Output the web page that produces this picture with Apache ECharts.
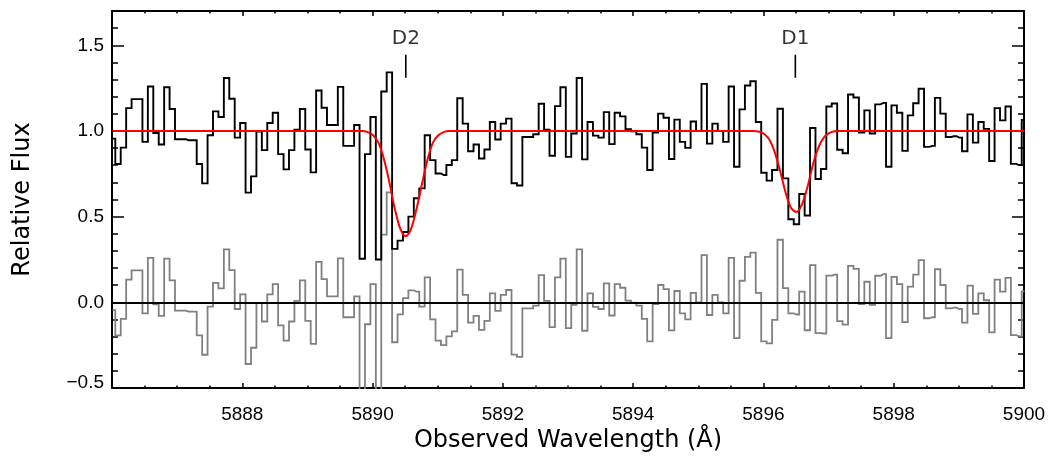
<!DOCTYPE html>
<html><head><meta charset="utf-8">
<script src="https://cdn.jsdelivr.net/npm/echarts@6/dist/echarts.min.js"></script>
<style>html,body{margin:0;padding:0;background:#fff}#c{width:1057px;height:462px}</style>
</head><body><div id="c"></div>
<script>
// Wavelength grid of the spectrum (regular pixel grid, Å)
const firstCenter = 5886.009;
const binWidth = 0.08332;

// Observed relative flux per pixel
const flux = [
  0.955, 0.807, 0.903, 1.133, 1.186, 1.186, 0.936, 1.259, 0.988, 0.921,
  1.255, 1.128, 0.952, 0.952, 0.946, 0.946, 0.807, 0.694, 0.975, 1.114,
  1.081, 1.309, 1.188, 0.961, 1.046, 0.640, 0.735, 0.996, 0.888, 1.046,
  1.106, 0.865, 0.776, 0.888, 1.008, 1.128, 0.892, 0.758, 1.236, 1.135,
  1.035, 1.035, 1.257, 0.913, 0.913, 1.035, 0.254, 0.865, 1.081, 0.250,
  1.230, 1.342, 0.312, 0.360, 0.410, 0.500, 0.607, 0.665, 0.975, 0.830,
  0.752, 0.743, 0.801, 0.830, 1.191, 1.043, 0.882, 0.921, 0.839, 0.892,
  1.052, 0.950, 1.043, 1.072, 0.695, 0.682, 0.965, 0.965, 0.981, 1.159,
  1.008, 0.855, 1.145, 1.255, 0.849, 0.985, 1.309, 0.834, 1.052, 0.973,
  0.961, 1.110, 0.923, 1.106, 1.085, 1.010, 0.998, 0.981, 0.903, 0.772,
  0.990, 1.101, 1.077, 0.836, 1.066, 0.936, 0.901, 1.055, 1.000, 1.275,
  0.926, 1.043, 1.000, 0.936, 1.259, 0.791, 1.126, 1.265, 1.290, 1.052,
  0.756, 0.710, 0.772, 1.130, 0.723, 0.485, 0.456, 0.632, 0.507, 1.017,
  0.720, 0.778, 1.143, 1.160, 0.890, 0.870, 1.213, 1.195, 0.990, 1.120,
  0.985, 1.155, 1.164, 0.791, 1.149, 1.106, 0.884, 1.091, 1.162, 1.246,
  0.907, 0.913, 1.193, 1.101, 0.965, 0.969, 0.961, 0.882, 1.097, 0.932,
  1.052, 1.012, 0.825, 1.133, 1.062, 1.143, 0.808, 0.801, 1.064
];

// Fitted model (red curve) at each pixel
const model = [
  1, 1, 1, 1, 1, 1, 1, 1, 1, 1,
  1, 1, 1, 1, 1, 1, 1, 1, 1, 1,
  1, 1, 1, 1, 1, 1, 1, 1, 1, 1,
  1, 1, 1, 1, 1, 1, 1, 1, 1, 1,
  1, 1, 1, 1, 1, 1, 1.0, 0.993, 0.975, 0.93,
  0.835, 0.70, 0.545, 0.43, 0.385, 0.43, 0.545, 0.69, 0.83, 0.93,
  0.975, 0.993, 1.0, 1, 1, 1, 1, 1, 1, 1,
  1, 1, 1, 1, 1, 1, 1, 1, 1, 1,
  1, 1, 1, 1, 1, 1, 1, 1, 1, 1,
  1, 1, 1, 1, 1, 1, 1, 1, 1, 1,
  1, 1, 1, 1, 1, 1, 1, 1, 1, 1,
  1, 1, 1, 1, 1, 1, 1, 1, 1.0, 0.997,
  0.984, 0.95, 0.875, 0.765, 0.64, 0.55, 0.527, 0.57, 0.67, 0.80,
  0.90, 0.96, 0.987, 0.998, 1.0, 1, 1, 1, 1, 1,
  1, 1, 1, 1, 1, 1, 1, 1, 1, 1,
  1, 1, 1, 1, 1, 1, 1, 1, 1, 1,
  1, 1, 1, 1, 1, 1, 1, 1, 1
];

// Line identifications
const lineNames = ['D2', 'D1'];
const lineWaves = [5890.51, 5896.49];
const markLow = 1.31, markHigh = 1.445;

// Axis ticks
const xMin = 5886, xMax = 5900, xStep = 2;
const yMin = -0.5, yMax = 1.7, yStep = 0.5, yMinor = 0.1;

const wave = flux.map((_, i) => +(firstCenter + i * binWidth).toFixed(4));
const fluxData = flux.map((v, i) => [wave[i], v]);
const modelData = model.map((v, i) => [wave[i], v]);
const residData = flux.map((v, i) => [wave[i], +(v - model[i]).toFixed(4)]);

const tickFont = {fontFamily: 'Liberation Sans', fontSize: 19, color: '#000'};
const titleFont = {fontFamily: 'DejaVu Sans', fontSize: 24, color: '#000'};

function xAxisDef(pos, showLabel) {
  return {
    type: 'value', position: pos, min: xMin, max: xMax, interval: xStep,
    axisLine: {show: true, onZero: false, lineStyle: {color: '#000', width: 2}},
    axisTick: {show: true, inside: true, length: 5, lineStyle: {color: '#000', width: 1.5}},
    minorTick: {show: true, splitNumber: 4, length: 2.5, lineStyle: {color: '#000', width: 1.5}},
    splitLine: {show: false},
    axisLabel: Object.assign({show: showLabel, margin: 17, showMinLabel: false,
      formatter: v => String(v)}, tickFont),
    name: showLabel ? 'Observed Wavelength (Å)' : '',
    nameLocation: 'middle', nameGap: 39, nameTextStyle: titleFont
  };
}
function yAxisDef(pos, major, showLabel) {
  return {
    type: 'value', position: pos, min: yMin, max: yMax, interval: major ? yStep : yMinor,
    axisLine: {show: major, onZero: false, lineStyle: {color: '#000', width: 2}},
    axisTick: {show: true, inside: true, length: major ? 12 : 6, lineStyle: {color: '#000', width: 1.5}},
    splitLine: {show: false},
    axisLabel: Object.assign({
      show: showLabel, margin: 8, showMaxLabel: false,
      formatter: v => {
        const s = (v < 0 ? '\u2212' : '') + Math.abs(v).toFixed(1);
        return v < -0.4 ? '{low|' + s + '}' : s;
      },
      rich: {low: Object.assign({padding: [0, 0, 10, 0]}, tickFont)}
    }, tickFont),
    name: showLabel ? 'Relative Flux' : '',
    nameLocation: 'middle', nameGap: 77, nameTextStyle: titleFont
  };
}

const series = [
  {
    type: 'line', step: 'middle', data: residData, symbol: 'none', z: 2,
    lineStyle: {color: '#808080', width: 1.8, join: 'miter'},
    markLine: {silent: true, symbol: 'none', label: {show: false},
      lineStyle: {color: '#000', width: 1.8, type: 'solid'}, data: [{yAxis: 0}]}
  },
  {
    type: 'line', step: 'middle', data: fluxData, symbol: 'none', z: 3,
    lineStyle: {color: '#000', width: 1.9, join: 'miter'}
  },
  {
    type: 'line', smooth: 0.3, data: modelData, symbol: 'none', z: 4,
    lineStyle: {color: '#ff0000', width: 2}
  }
];
lineNames.forEach((n, i) => {
  series.push({
    type: 'line', data: [[lineWaves[i], markLow], [lineWaves[i], markHigh]],
    symbol: 'none', z: 5, lineStyle: {color: '#000', width: 1.6}
  });
  series.push({
    type: 'scatter', data: [[lineWaves[i], markHigh]], symbolSize: 0, z: 5,
    label: {show: true, position: 'top', distance: 6, formatter: n,
      fontFamily: 'DejaVu Sans', fontSize: 20, color: '#000'}
  });
});

const chart = echarts.init(document.getElementById('c'), null, {renderer: 'canvas'});
chart.setOption({
  animation: false,
  backgroundColor: '#fff',
  grid: {left: 112, top: 11, width: 912, height: 377, containLabel: false},
  xAxis: [xAxisDef('bottom', true), xAxisDef('top', false)],
  yAxis: [yAxisDef('left', true, true), yAxisDef('left', false, false),
          yAxisDef('right', true, false), yAxisDef('right', false, false)],
  series: series
});
</script>
</body></html>
